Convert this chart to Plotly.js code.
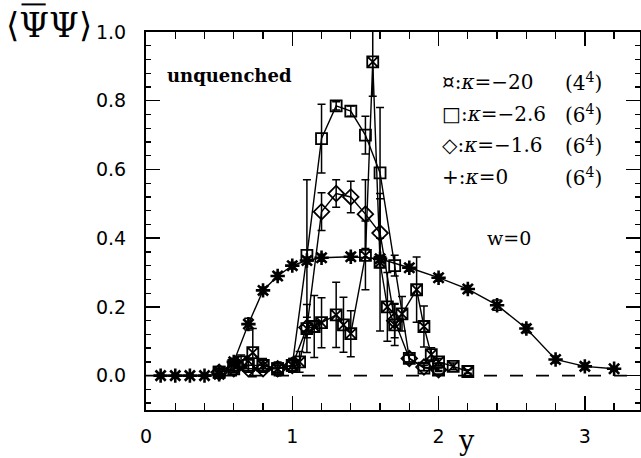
<!DOCTYPE html>
<html><head><meta charset="utf-8">
<script src="https://cdn.plot.ly/plotly-3.0.1.min.js"></script>
<style>html,body{margin:0;padding:0;background:#fff}#plot{width:641px;height:458px}</style>
</head><body><div id="plot"></div>
<script>
// kappa = -20 (4^4)
const xK20 = [0.5,0.6,0.65,0.73,0.8,0.9,1.0,1.05,1.1,1.15,1.2,1.3,1.35,1.4,1.5,1.55,1.6,1.65,1.7,1.75,1.85,1.9,1.95,2.0,2.1,2.2];
const yK20 = [0.01,0.03,0.04,0.067,0.03,0.02,0.03,0.04,0.137,0.143,0.154,0.177,0.148,0.122,0.35,0.913,0.33,0.2,0.148,0.18,0.25,0.143,0.061,0.04,0.027,0.012];
const eK20 = [0.01,0.02,0.02,0.07,0.02,0.02,0.02,0.03,0.07,0.09,0.073,0.095,0.08,0.067,0.1,0.1,0.2,0.1,0.06,0.05,0.095,0.06,0.02,0.01,0.01,0.005];
// kappa = -2.6 (6^4)
const xK26 = [0.5,0.6,0.7,0.8,0.9,1.0,1.1,1.2,1.3,1.4,1.5,1.6,1.7,1.8,1.9,2.0];
const yK26 = [0.01,0.02,0.03,0.03,0.02,0.03,0.35,0.69,0.785,0.77,0.70,0.59,0.32,0.05,0.022,0.02];
const eK26 = [0.01,0.01,0.02,0.015,0.01,0.02,0.22,0.1,0.012,0.015,0.055,0.19,0.03,0.01,0.008,0.005];
// kappa = -1.6 (6^4)
const xK16 = [0.5,0.6,0.7,0.8,0.9,1.0,1.1,1.2,1.3,1.4,1.5,1.6,1.7,1.8,1.9,2.0];
const yK16 = [0.01,0.02,0.02,0.02,0.02,0.03,0.14,0.477,0.53,0.52,0.47,0.415,0.16,0.05,0.025,0.017];
const eK16 = [0.01,0.01,0.01,0.01,0.01,0.01,0.03,0.055,0.04,0.046,0.1,0.1,0.05,0.01,0.01,0.005];
// kappa = 0 (6^4)
const xK0 = [0.1,0.2,0.3,0.4,0.5,0.6,0.7,0.8,0.9,1.0,1.1,1.2,1.4,1.6,1.8,2.0,2.2,2.4,2.6,2.8,3.0,3.2];
const yK0 = [0,0,0,0,0.004,0.04,0.15,0.248,0.29,0.32,0.335,0.343,0.346,0.34,0.314,0.285,0.252,0.205,0.137,0.047,0.027,0.02];
const eK0 = [0.003,0.003,0.003,0.003,0.004,0.01,0.017,0.01,0.01,0.01,0.01,0.01,0.01,0.01,0.01,0.01,0.01,0.015,0.012,0.01,0.01,0.005];

const xTickVals = [0,1,2,3];
const xTickText = ['0','1','2','3'];
const yTickVals = [0,0.2,0.4,0.6,0.8,1.0];
const yTickText = ['0.0','0.2','0.4','0.6','0.8','1.0'];

const legendLabels = ['¤:<i>κ</i>=−20','□:<i>κ</i>=−2.6','◇:<i>κ</i>=−1.6','+:<i>κ</i>=0'];
const legendSizes = ['(4<sup>4</sup>)','(6<sup>4</sup>)','(6<sup>4</sup>)','(6<sup>4</sup>)'];

function tr(x,y,e,sym,lw,sz){
  return {x:x,y:y,type:'scatter',mode:'lines+markers',
    line:{color:'#000',width:1.4},
    marker:{symbol:sym,size:sz,color:'#000',line:{color:'#000',width:lw}},
    error_y:{type:'data',array:e,visible:true,color:'#000',thickness:1.5,width:4},
    showlegend:false,cliponaxis:true};
}
const data = [
  tr(xK0,yK0,eK0,'asterisk-open',2.6,12),
  tr(xK16,yK16,eK16,'diamond-open',1.8,12),
  tr(xK26,yK26,eK26,'square-open',1.8,11),
  tr(xK20,yK20,eK20,'square-x-open',1.8,11)
];

const serif = 'DejaVu Serif';
const ann = [];
ann.push({xref:'paper',yref:'paper',x:-0.196,y:1.018,xanchor:'center',yanchor:'middle',showarrow:false,
  text:'⟨ΨΨ⟩',font:{family:serif,size:34,color:'#000'}});
ann.push({xref:'x',yref:'paper',x:2.19,y:-0.08,xanchor:'center',yanchor:'middle',showarrow:false,
  text:'y',font:{family:serif,size:27,color:'#000'}});
ann.push({xref:'x',yref:'y',x:0.13,y:0.872,xanchor:'left',yanchor:'middle',showarrow:false,
  text:'<b>unquenched</b>',font:{family:serif,size:18,color:'#000'}});
ann.push({xref:'x',yref:'y',x:2.48,y:0.4,xanchor:'center',yanchor:'middle',showarrow:false,
  text:'w=0',font:{family:serif,size:19,color:'#000'}});
const rowsY = [0.855,0.762,0.67,0.578];
for(let i=0;i<4;i++){
  ann.push({xref:'x',yref:'y',x:2.01,y:rowsY[i],xanchor:'left',yanchor:'middle',showarrow:false,
    text:legendLabels[i],font:{family:serif,size:20,color:'#000'}});
  ann.push({xref:'x',yref:'y',x:3.13,y:rowsY[i],xanchor:'right',yanchor:'middle',showarrow:false,
    text:legendSizes[i],font:{family:serif,size:20,color:'#000'}});
}

const axisCommon = {showgrid:false,zeroline:false,showline:true,linecolor:'#000',linewidth:2,
  mirror:'allticks',ticks:'inside',tickcolor:'#000',tickwidth:1.5,ticklen:14,
  tickfont:{family:'DejaVu Sans',size:19,color:'#000'}};
const layout = {
  width:641,height:458,margin:{l:146,r:1,t:32,b:48},
  paper_bgcolor:'#fff',plot_bgcolor:'#fff',showlegend:false,
  xaxis:Object.assign({},axisCommon,{range:[0,3.377],tickmode:'array',tickvals:xTickVals,ticktext:xTickText,
    ticklabelstandoff:8,minor:{dtick:0.2,tick0:0,ticks:'inside',ticklen:7,tickcolor:'#000',tickwidth:1.3}}),
  yaxis:Object.assign({},axisCommon,{range:[-0.1,1.0],tickmode:'array',tickvals:yTickVals,ticktext:yTickText,
    ticklabelstandoff:14,minor:{dtick:0.04,tick0:0,ticks:'inside',ticklen:5,tickcolor:'#000',tickwidth:1.3}}),
  shapes:[
    {type:'line',xref:'paper',yref:'y',x0:0,x1:1,y0:0,y1:0,layer:'below',
      line:{color:'#000',width:1.6,dash:'13px,13px'}},
    {type:'line',xref:'paper',yref:'paper',x0:-0.252,x1:-0.203,y0:1.073,y1:1.073,layer:'above',
      line:{color:'#000',width:2}}
  ],
  annotations:ann
};
Plotly.newPlot('plot',data,layout,{staticPlot:true,displayModeBar:false});
</script></body></html>
